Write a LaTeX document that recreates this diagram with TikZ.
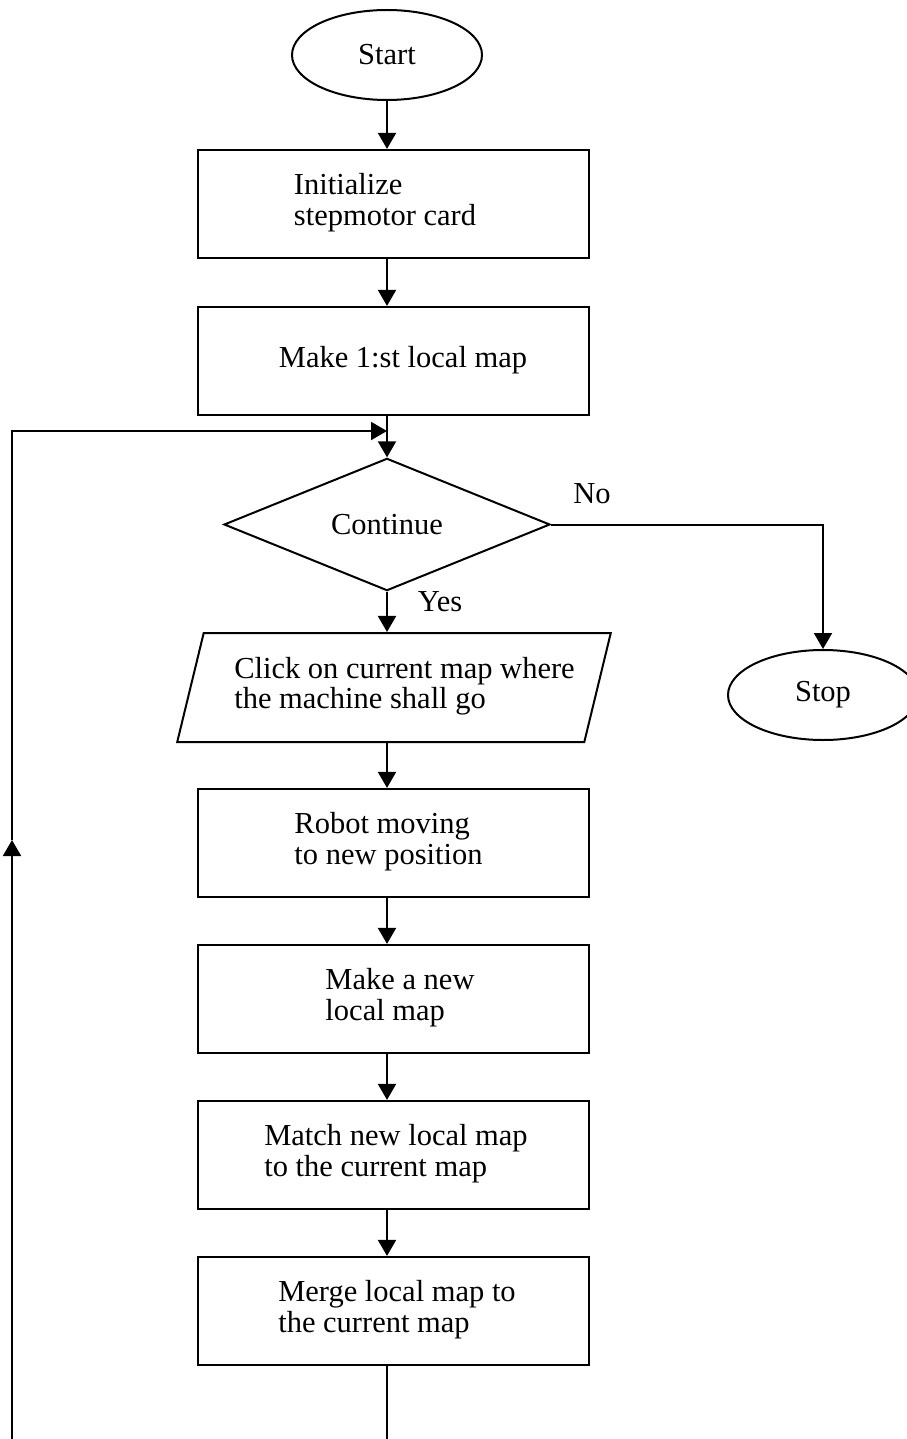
\documentclass[tikz,border=0pt]{standalone}
\usepackage{fontspec}
\setmainfont{Liberation Serif}
\usetikzlibrary{shapes.geometric,arrows.meta}

% Left-aligned block of lines, moved sideways by #1 inside its node
\newcommand{\offsettext}[2]{%
  \ifdim#1>0pt \hspace*{2\dimexpr#1\relax}\fi
  \begin{tabular}{@{}l@{}}#2\end{tabular}%
  \ifdim#1<0pt \hspace*{-2\dimexpr#1\relax}\fi}

\begin{document}
\begin{tikzpicture}[x=1pt,y=-1pt,
  font=\fontsize{30.5}{30.5}\selectfont,
  line width=2pt,
  every node/.style={inner sep=0pt},
  proc/.style={draw, line width=2.2pt, minimum width=391pt, minimum height=108pt},
  term/.style={draw, ellipse, minimum width=190pt, minimum height=90pt},
  decide/.style={draw, diamond, minimum width=326pt, minimum height=125pt},
  io/.style={draw, trapezium, trapezium left angle=67.6, trapezium right angle=112.4,
    trapezium stretches=true, minimum width=434pt, minimum height=109pt},
  flow/.style={-{Triangle[length=16pt,width=18pt]}}]

\useasboundingbox (0,0) rectangle (906,1439);

% main column
\node[term] (start) at (387,55) {Start};
\node[proc] (init) at (393.5,204) {\offsettext{-8.5pt}{Initialize\\stepmotor card}};
\node[proc] (make1) at (393.5,361) {\offsettext{9.5pt}{Make 1:st local map}};
\node[decide] (cont) at (387,524.5) {Continue};
\node[io] (click) at (394,687.5) {\offsettext{10.5pt}{Click on current map where\\the machine shall go}};
\node[proc] (robot) at (393.5,843) {\offsettext{-5pt}{Robot moving\\to new position}};
\node[proc] (newmap) at (393.5,999) {\offsettext{6.5pt}{Make a new\\local map}};
\node[proc] (match) at (393.5,1155) {\offsettext{2.5pt}{Match new local map\\to the current map}};
\node[proc] (merge) at (393.5,1311) {\offsettext{3.5pt}{Merge local map to\\the current map}};
\node[term] (stop) at (823,695) {Stop};

% branch labels
\node (no) at (592,494) {No};
\node (yes) at (440,602) {Yes};

% forward flow
\draw[flow] (start.south) -- (init.north -| start.south);
\draw[flow] (init.south -| start.south) -- (make1.north -| start.south);
\draw[flow] (make1.south -| start.south) -- (cont.north);
\draw[flow] (cont.south) -- (click.north -| cont.south);
\draw[flow] (click.south -| cont.south) -- (robot.north -| cont.south);
\draw[flow] (robot.south -| cont.south) -- (newmap.north -| cont.south);
\draw[flow] (newmap.south -| cont.south) -- (match.north -| cont.south);
\draw[flow] (match.south -| cont.south) -- (merge.north -| cont.south);
\draw[flow] (cont.east) -| (stop.north);

% return loop
\coordinate (exitpt) at (387,1439);
\coordinate (lb) at (12,1439);
\coordinate (lm) at (12,840);
\coordinate (lt) at (12,431);
\coordinate (join) at (387,431);
\draw (merge.south -| cont.south) -- (exitpt);
\draw[flow] (lb) -- (lm);
\draw[flow] (lm) -- (lt) -- (join);
\end{tikzpicture}
\end{document}
